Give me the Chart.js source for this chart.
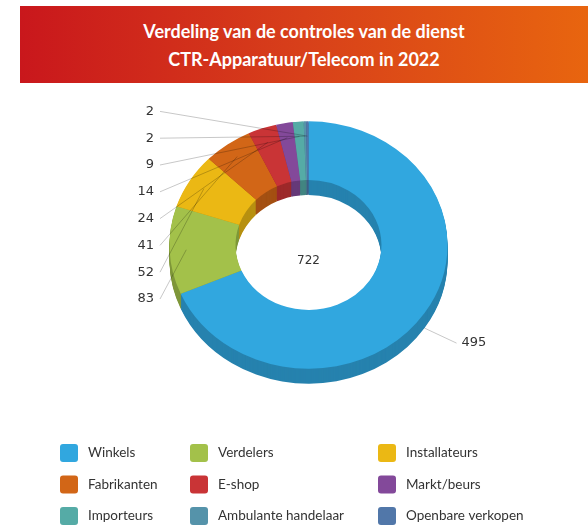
<!DOCTYPE html>
<html>
<head>
<meta charset="utf-8">
<script src="https://cdn.jsdelivr.net/npm/chart.js@4"></script>
<style>
  html,body{margin:0;padding:0;background:#fff;}
  #wrap{position:relative;width:588px;height:525px;overflow:hidden;}
  #banner{position:absolute;left:20px;top:6px;width:568px;height:77px;
    background:linear-gradient(90deg,#c9171c 0%,#d8401a 50%,#e8650f 100%);
    color:#fff;font-family:Lato,"Open Sans",sans-serif;font-weight:bold;font-size:18px;
    text-align:center;line-height:27.5px;padding-top:12px;box-sizing:border-box;z-index:2;}
  canvas{position:absolute;left:0;top:0;}
</style>
</head>
<body>
<div id="wrap">
  <div id="banner"></div>
  <canvas id="c" width="588" height="525"></canvas>
</div>
<script>
const titleLines = ["Verdeling van de controles van de dienst", "CTR-Apparatuur/Telecom in 2022"];
const categories = ["Winkels","Verdelers","Installateurs","Fabrikanten","E-shop","Markt/beurs","Importeurs","Ambulante handelaar","Openbare verkopen"];
const values = [495, 83, 52, 41, 24, 14, 9, 2, 2];
const colors = ["#31a7df","#a3c14a","#ebb814","#d26617","#c93436","#83499a","#55aba6","#5593aa","#5177a9"];

document.getElementById('banner').innerHTML = titleLines.join('<br>');

const TILT = 0.89, DEPTH = 15;

function darken(hex, f){
  const n = parseInt(hex.slice(1),16);
  const r = Math.round(((n>>16)&255)*f), g = Math.round(((n>>8)&255)*f), b = Math.round((n&255)*f);
  return `rgb(${r},${g},${b})`;
}

const pie3d = {
  id:'pie3d',
  beforeDatasetsDraw(chart){
    const ctx = chart.ctx;
    const arcs = chart.getDatasetMeta(0).data;
    if(!arcs.length) return false;
    const cx = arcs[0].x, cy = arcs[0].y;
    for(let d = DEPTH; d >= 1; d--){
      ctx.save();
      ctx.translate(0, d);
      ctx.translate(cx, cy); ctx.scale(1, TILT); ctx.translate(-cx, -cy);
      arcs.forEach((a,i)=>{
        const orig = a.options.backgroundColor;
        a.options.backgroundColor = darken(colors[i], 0.78);
        a.draw(ctx);
        a.options.backgroundColor = orig;
      });
      ctx.restore();
    }
    ctx.save();
    ctx.translate(cx, cy); ctx.scale(1, TILT); ctx.translate(-cx, -cy);
    arcs.forEach(a=>a.draw(ctx));
    ctx.restore();
    return false;
  },
  afterDraw(chart){
    const ctx = chart.ctx;
    const arcs = chart.getDatasetMeta(0).data;
    const cx = arcs[0].x, cy = arcs[0].y;
    const vals = chart.data.datasets[0].data;
    const total = vals.reduce((s,v)=>s+v,0);
    ctx.save();
    ctx.fillStyle = '#333';
    ctx.font = '12px "DejaVu Sans", Verdana, sans-serif';
    ctx.textAlign = 'center'; ctx.textBaseline = 'middle';
    ctx.fillText(String(total), cx, cy + 16);
    ctx.font = '13px "DejaVu Sans", Verdana, sans-serif';
    ctx.lineWidth = 1;
    ctx.strokeStyle = 'rgba(0,0,0,0.22)';
    arcs.forEach((a,i)=>{
      const mid = (a.startAngle + a.endAngle)/2;
      if(i === 0){
        const r = a.outerRadius;
        const px = cx + Math.cos(mid)*r, py = cy + Math.sin(mid)*r*TILT + DEPTH;
        const ex = px + 32, ey = py + 15;
        ctx.beginPath(); ctx.moveTo(px, py); ctx.lineTo(ex, ey); ctx.stroke();
        ctx.textAlign = 'left';
        ctx.fillText(String(vals[i]), ex + 5, ey);
      } else {
        const r = a.outerRadius*0.88;
        const px = cx + Math.cos(mid)*r, py = cy + Math.sin(mid)*r*TILT;
        const ly = 299 - (i-1)*26.8;
        ctx.beginPath(); ctx.moveTo(160, ly); ctx.lineTo(px, py); ctx.stroke();
        ctx.textAlign = 'right';
        ctx.fillText(String(vals[i]), 154, ly);
      }
    });
    const colX = [60, 190, 378], rowY = [453, 484.5, 516];
    ctx.font = '13.5px Lato, "Open Sans", sans-serif';
    ctx.textAlign = 'left';
    chart.data.labels.forEach((lab,i)=>{
      const x = colX[i%3], y = rowY[Math.floor(i/3)];
      ctx.fillStyle = colors[i];
      ctx.beginPath(); ctx.roundRect(x, y-9, 18, 18, 3); ctx.fill();
      ctx.fillStyle = '#333';
      ctx.fillText(lab, x + 28, y);
    });
    ctx.restore();
  }
};

new Chart(document.getElementById('c'), {
  type:'doughnut',
  data:{labels:categories, datasets:[{data:values, backgroundColor:colors, borderWidth:0}]},
  options:{
    responsive:false, animation:false, cutout:'52.5%',
    layout:{padding:{left:169.5, right:140.5, top:106, bottom:141}},
    plugins:{legend:{display:false}, tooltip:{enabled:false}, title:{display:false}}
  },
  plugins:[pie3d]
});
</script>
</body>
</html>
